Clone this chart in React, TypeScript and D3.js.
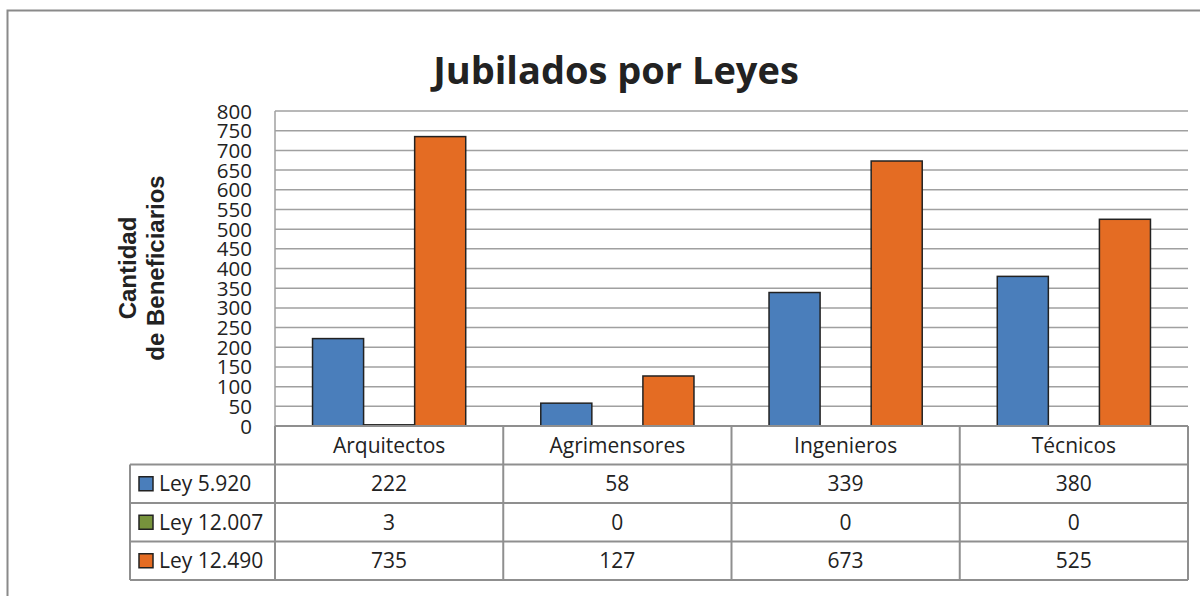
import React from "react";
import * as d3 from "d3";

const categories = ["Arquitectos", "Agrimensores", "Ingenieros", "Técnicos"];
const seriesNames = ["Ley 5.920", "Ley 12.007", "Ley 12.490"];
const ley5920 = [222, 58, 339, 380];
const ley12007 = [3, 0, 0, 0];
const ley12490 = [735, 127, 673, 525];
const seriesColors = ["#4a7ebb", "#77933c", "#e46c23"];
const yTicks = d3.range(0, 801, 50);

export default function App() {
  const W = 1200, H = 596;
  const left = 275, right = 1188, top = 111, bottom = 426;
  const rowH = 38.5;
  const legendLeft = 130;
  const series = [ley5920, ley12007, ley12490];

  const x = d3.scaleBand<string>().domain(categories).range([left, right]).paddingInner(0).paddingOuter(0);
  const xs = d3.scaleBand<number>().domain([0, 1, 2]).range([0, x.bandwidth()]).paddingOuter(0.735).paddingInner(0);
  const y = d3.scaleLinear().domain([0, 800]).range([bottom, top]);

  const font = "'Open Sans', sans-serif";
  const gridColor = "#a0a0a0";
  const tableColor = "#8f8f8f";
  const fs = 21;

  return (
    <svg width={W} height={H} style={{ position: "absolute", left: 0, top: 0 }}>
      <rect x={0} y={0} width={W} height={H} fill="#fff" />
      <rect x={7.5} y={10.5} width={1200} height={700} fill="none" stroke="#8a8a8a" strokeWidth={2} />
      <text x={616} y={84} textAnchor="middle" fontFamily={font} fontWeight={700} fontSize={38} fill="#222">
        Jubilados por Leyes
      </text>
      {/* gridlines */}
      {yTicks.map((t) => (
        <line key={t} x1={left} x2={right} y1={y(t)} y2={y(t)} stroke={gridColor} strokeWidth={1.5} />
      ))}
      <line x1={left} x2={left} y1={top} y2={bottom} stroke={gridColor} strokeWidth={1.5} />
      {/* tick labels */}
      {yTicks.map((t) => (
        <text key={"l" + t} x={252} y={y(t) + 7.5} textAnchor="end" fontFamily={font} fontSize={20.5} fill="#222">
          {t}
        </text>
      ))}
      {/* axis title */}
      <g transform="translate(141,268) rotate(-90)">
        <text x={0} y={-5} textAnchor="middle" fontFamily="'Liberation Sans', Arial, sans-serif" fontWeight={700} fontSize={24} fill="#222">
          Cantidad
        </text>
        <text x={0} y={23} textAnchor="middle" fontFamily="'Liberation Sans', Arial, sans-serif" fontWeight={700} fontSize={24} fill="#222">
          de Beneficiarios
        </text>
      </g>
      {/* bars */}
      {categories.map((c, i) =>
        series.map((s, j) => (
          <rect
            key={c + j}
            x={(x(c) as number) + (xs(j) as number)}
            y={y(s[i])}
            width={xs.bandwidth()}
            height={bottom - y(s[i])}
            fill={seriesColors[j]}
            stroke="#222"
            strokeWidth={1.5}
          />
        ))
      )}
      {/* table */}
      <g>
        <line x1={left} x2={right} y1={bottom} y2={bottom} stroke={tableColor} strokeWidth={2} />
        {[1, 2, 3, 4].map((r) => (
          <line key={"h" + r} x1={legendLeft} x2={right} y1={bottom + rowH * r} y2={bottom + rowH * r} stroke={tableColor} strokeWidth={2} />
        ))}
        <line x1={legendLeft} x2={legendLeft} y1={bottom + rowH} y2={bottom + rowH * 4} stroke={tableColor} strokeWidth={2} />
        {categories.map((c) => (
          <line key={"v" + c} x1={x(c) as number} x2={x(c) as number} y1={bottom} y2={bottom + rowH * 4} stroke={tableColor} strokeWidth={2} />
        ))}
        <line x1={right} x2={right} y1={bottom} y2={bottom + rowH * 4} stroke={tableColor} strokeWidth={2} />
        {categories.map((c) => (
          <text key={"c" + c} x={(x(c) as number) + x.bandwidth() / 2} y={bottom + rowH / 2 + 7.5} textAnchor="middle" fontFamily={font} fontSize={fs} fill="#222">
            {c}
          </text>
        ))}
        {series.map((s, j) => (
          <g key={"r" + j}>
            <rect x={139} y={bottom + rowH * (j + 1) + rowH / 2 - 7} width={14} height={14} fill={seriesColors[j]} stroke="#222" strokeWidth={1.5} />
            <text x={159} y={bottom + rowH * (j + 1) + rowH / 2 + 7.5} fontFamily={font} fontSize={fs} fill="#222">
              {seriesNames[j]}
            </text>
            {categories.map((c, i) => (
              <text key={c} x={(x(c) as number) + x.bandwidth() / 2} y={bottom + rowH * (j + 1) + rowH / 2 + 7.5} textAnchor="middle" fontFamily={font} fontSize={fs} fill="#222">
                {s[i]}
              </text>
            ))}
          </g>
        ))}
      </g>
    </svg>
  );
}
